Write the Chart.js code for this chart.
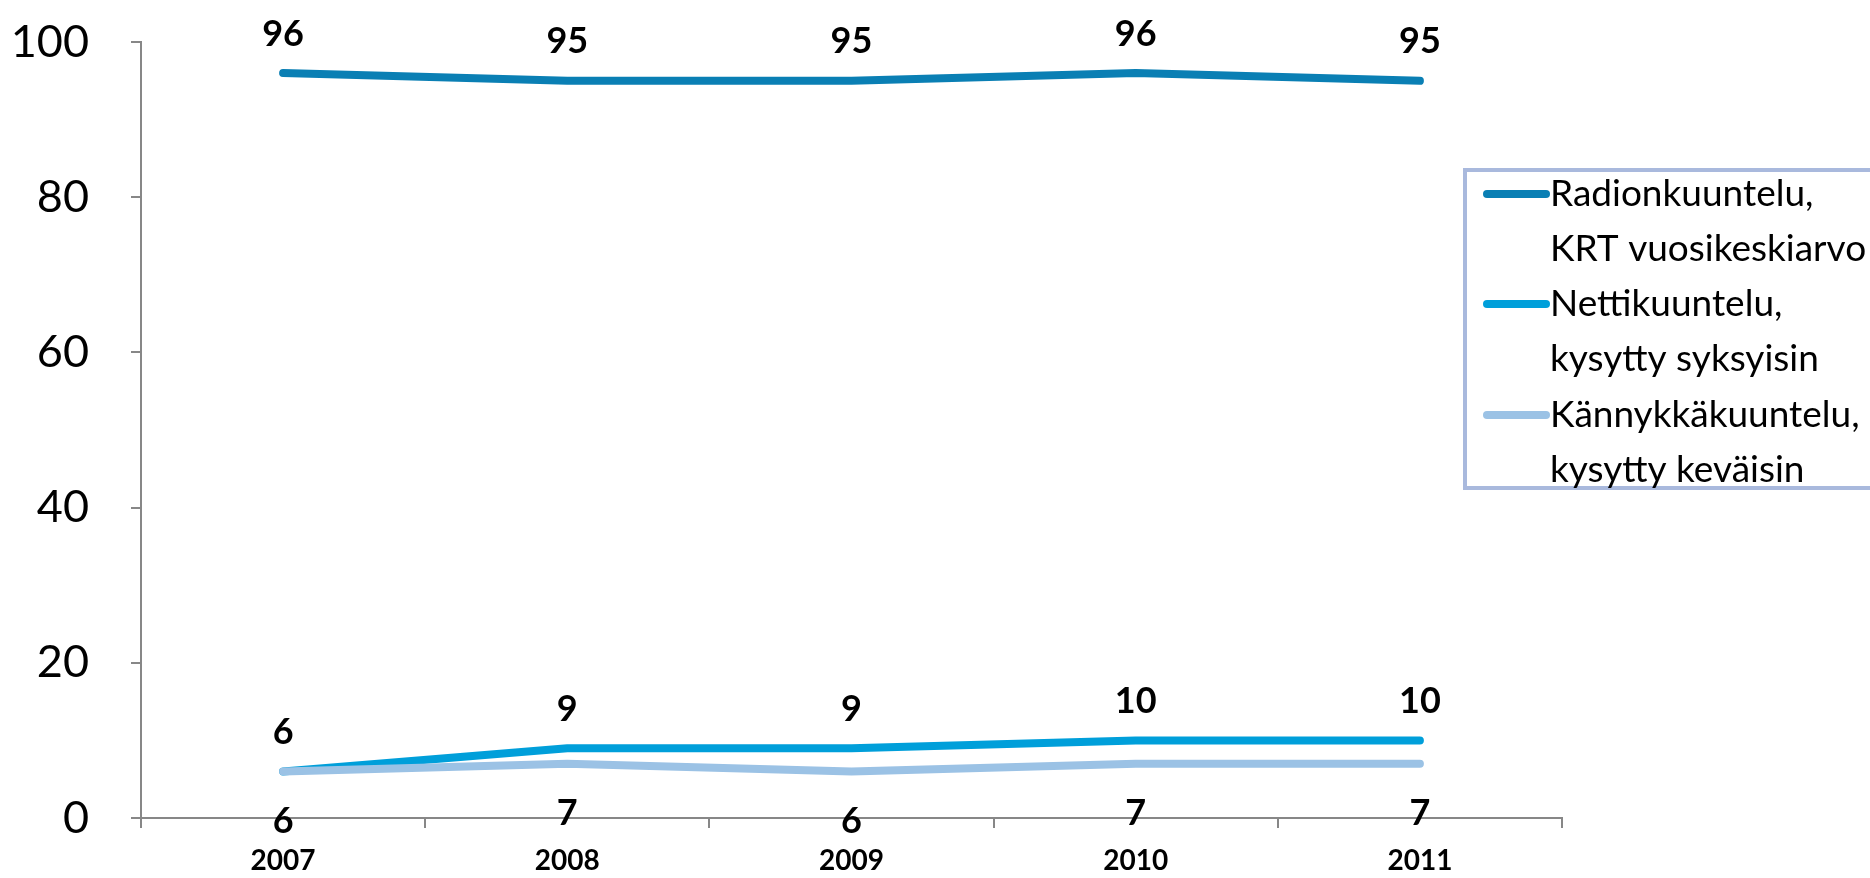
<!DOCTYPE html>
<html>
<head>
<meta charset="utf-8">
<script src="https://cdn.jsdelivr.net/npm/chart.js@4.4.0/dist/chart.umd.min.js"></script>
<style>
  html, body { margin: 0; padding: 0; background: #fff; }
  #wrap { width: 1870px; height: 878px; position: relative; }
</style>
</head>
<body>
<div id="wrap"><canvas id="myChart"></canvas></div>
<script>
var vuodet = ['2007', '2008', '2009', '2010', '2011'];
var radio = [96, 95, 95, 96, 95];
var netti = [6, 9, 9, 10, 10];
var kannykka = [6, 7, 6, 7, 7];
var nimet = [['Radionkuuntelu,', 'KRT vuosikeskiarvo'], ['Nettikuuntelu,', 'kysytty syksyisin'], ['Kännykkäkuuntelu,', 'kysytty keväisin']];
var varit = ['#0a7fb4', '#009fda', '#9bc2e5'];

var fontti = 'Lato, "DejaVu Sans", sans-serif';

// arvot viivojen ylä- tai alapuolelle
var arvoPlugin = {
    id: 'arvot',
    afterDatasetsDraw: function(chart) {
        var ctx = chart.ctx;
        ctx.save();
        ctx.font = 'bold 36px ' + fontti;
        ctx.fillStyle = '#000';
        ctx.textAlign = 'center';
        ctx.textBaseline = 'middle';
        chart.data.datasets.forEach(function(ds, i) {
            var meta = chart.getDatasetMeta(i);
            meta.data.forEach(function(p, j) {
                var dy = ds.alas ? 50 : -39;
                ctx.fillText(ds.data[j], p.x, p.y + dy);
            });
        });
        ctx.restore();
    }
};

// selite laatikkoon oikealle
var selitePlugin = {
    id: 'selite',
    afterDraw: function(chart) {
        var ctx = chart.ctx;
        ctx.save();
        ctx.strokeStyle = '#a9b9dd';
        ctx.lineWidth = 4;
        ctx.strokeRect(1465, 170, 420, 318);
        ctx.font = '37px ' + fontti;
        ctx.fillStyle = '#000';
        ctx.textBaseline = 'middle';
        ctx.lineCap = 'round';
        var riviY = [194, 304, 415];
        for (var i = 0; i < nimet.length; i++) {
            ctx.strokeStyle = varit[i];
            ctx.lineWidth = 8;
            ctx.beginPath();
            ctx.moveTo(1487, riviY[i]);
            ctx.lineTo(1546, riviY[i]);
            ctx.stroke();
            ctx.fillText(nimet[i][0], 1550, riviY[i]);
            ctx.fillText(nimet[i][1], 1550, riviY[i] + 55);
        }
        ctx.restore();
    }
};

var ctx = document.getElementById('myChart').getContext('2d');
var chart = new Chart(ctx, {
    type: 'line',
    data: {
        labels: vuodet,
        datasets: [{
            label: nimet[0].join(' '),
            data: radio,
            borderColor: varit[0],
            backgroundColor: varit[0],
            order: 2
        }, {
            label: nimet[1].join(' '),
            data: netti,
            borderColor: varit[1],
            backgroundColor: varit[1],
            order: 1
        }, {
            label: nimet[2].join(' '),
            data: kannykka,
            borderColor: varit[2],
            backgroundColor: varit[2],
            order: 0,
            alas: true
        }]
    },
    options: {
        responsive: true,
        maintainAspectRatio: false,
        animation: false,
        layout: { padding: { top: 42, right: 308, bottom: 0, left: 0 } },
        elements: {
            line: { borderWidth: 8, tension: 0, borderCapStyle: 'round', borderJoinStyle: 'round' },
            point: { radius: 0, hoverRadius: 0 }
        },
        plugins: {
            legend: { display: false },
            tooltip: { enabled: false }
        },
        scales: {
            x: {
                offset: true,
                grid: { offset: true, drawOnChartArea: false, drawTicks: true, tickLength: 10, color: '#878787', lineWidth: 2 },
                border: { color: '#878787', width: 2 },
                ticks: { color: '#000', font: { family: fontti, size: 28, weight: 'bold' }, padding: 16 },
                afterFit: function(s) { s.height = 60; s.paddingLeft = 0; s.paddingRight = 0; }
            },
            y: {
                min: 0,
                max: 100,
                ticks: { stepSize: 20, color: '#000', font: { family: fontti, size: 45 }, padding: 42 },
                grid: { drawOnChartArea: false, drawTicks: true, tickLength: 10, color: '#878787', lineWidth: 2 },
                border: { color: '#878787', width: 2 },
                afterFit: function(s) { s.width = 141; s.paddingTop = 0; s.paddingBottom = 0; }
            }
        }
    },
    plugins: [arvoPlugin, selitePlugin]
});
</script>
</body>
</html>
